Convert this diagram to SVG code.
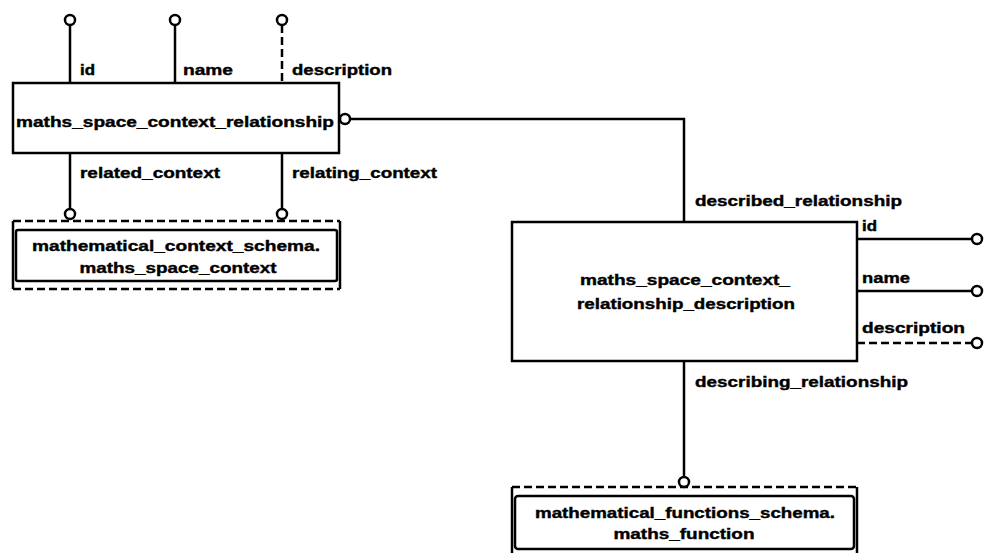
<svg xmlns="http://www.w3.org/2000/svg" width="986" height="553" viewBox="0 0 986 553">
<style>
.l{stroke:#000;stroke-width:2.5;fill:none}
.d{stroke:#000;stroke-width:2.5;fill:none;stroke-dasharray:8,4}
.c{stroke:#000;stroke-width:2.5;fill:#fff}
.b{stroke:#000;stroke-width:2.5;fill:#fff}
text{font-family:"Liberation Sans",Arial,sans-serif;font-weight:bold;font-size:15px;fill:#000;stroke:#000;stroke-width:0.4}
.m{text-anchor:middle}
</style>
<rect width="986" height="553" fill="#fff"/>
<g id="connectors">
<line class="l" x1="70" y1="25" x2="70" y2="83"/>
<line class="l" x1="175" y1="25" x2="175" y2="83"/>
<line class="d" x1="282" y1="25" x2="282" y2="83"/>
<circle class="c" cx="70" cy="20" r="5"/>
<circle class="c" cx="175" cy="20" r="5"/>
<circle class="c" cx="282" cy="20" r="5"/>
<text x="80" y="75" textLength="15" lengthAdjust="spacingAndGlyphs">id</text>
<text x="183" y="75" textLength="50" lengthAdjust="spacingAndGlyphs">name</text>
<text x="292" y="75" textLength="100" lengthAdjust="spacingAndGlyphs">description</text>
<line class="l" x1="70" y1="153" x2="70" y2="208"/>
<line class="l" x1="282" y1="153" x2="282" y2="208"/>
<circle class="c" cx="70" cy="214" r="5"/>
<circle class="c" cx="282" cy="214" r="5"/>
<text x="80" y="178" textLength="140" lengthAdjust="spacingAndGlyphs">related_context</text>
<text x="292" y="178" textLength="145" lengthAdjust="spacingAndGlyphs">relating_context</text>
<polyline class="l" points="350,119 684,119 684,222"/>
<circle class="c" cx="345" cy="119" r="5"/>
<text x="695" y="206" textLength="207" lengthAdjust="spacingAndGlyphs">described_relationship</text>
<line class="l" x1="857" y1="239" x2="972" y2="239"/>
<line class="l" x1="857" y1="291" x2="972" y2="291"/>
<line class="d" x1="857" y1="343" x2="972" y2="343"/>
<circle class="c" cx="977" cy="239" r="5"/>
<circle class="c" cx="977" cy="291" r="5"/>
<circle class="c" cx="977" cy="343" r="5"/>
<text x="862" y="231" textLength="15" lengthAdjust="spacingAndGlyphs">id</text>
<text x="862" y="283" textLength="48" lengthAdjust="spacingAndGlyphs">name</text>
<text x="862" y="333" textLength="103" lengthAdjust="spacingAndGlyphs">description</text>
<line class="l" x1="684" y1="361" x2="684" y2="477"/>
<circle class="c" cx="684" cy="482" r="5"/>
<text x="695" y="387" textLength="213" lengthAdjust="spacingAndGlyphs">describing_relationship</text>
</g>
<g id="node-relationship">
<rect class="b" x="13" y="83" width="326" height="70"/>
<text x="16" y="127" textLength="318" lengthAdjust="spacingAndGlyphs">maths_space_context_relationship</text>
</g>
<g id="node-space-context">
<line class="d" x1="13" y1="221" x2="340" y2="221"/>
<line class="d" x1="13" y1="289" x2="340" y2="289"/>
<line class="l" x1="13" y1="221" x2="13" y2="289"/>
<line class="l" x1="340" y1="221" x2="340" y2="289"/>
<rect class="l" x="16" y="230" width="321" height="51" rx="2"/>
<text class="m" x="176" y="251" textLength="288" lengthAdjust="spacingAndGlyphs">mathematical_context_schema.</text>
<text class="m" x="178" y="273" textLength="197" lengthAdjust="spacingAndGlyphs">maths_space_context</text>
</g>
<g id="node-description">
<rect class="b" x="512" y="222" width="345" height="139"/>
<text class="m" x="685" y="285" textLength="210" lengthAdjust="spacingAndGlyphs">maths_space_context_</text>
<text class="m" x="686" y="309" textLength="218" lengthAdjust="spacingAndGlyphs">relationship_description</text>
</g>
<g id="node-function">
<line class="d" x1="512" y1="487" x2="857" y2="487"/>
<line class="l" x1="512" y1="487" x2="512" y2="553"/>
<line class="l" x1="857" y1="487" x2="857" y2="553"/>
<rect class="l" x="515" y="496" width="339" height="53" rx="3"/>
<text class="m" x="685" y="518" textLength="300" lengthAdjust="spacingAndGlyphs">mathematical_functions_schema.</text>
<text class="m" x="684" y="539" textLength="141" lengthAdjust="spacingAndGlyphs">maths_function</text>
</g>
</svg>
